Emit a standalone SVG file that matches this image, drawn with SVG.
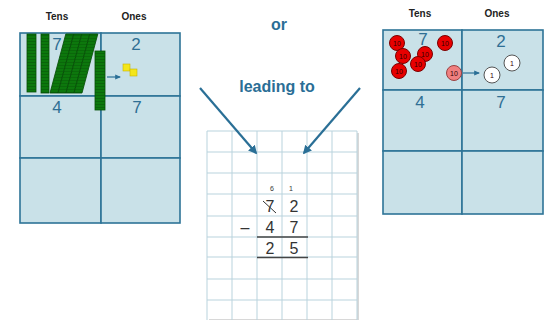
<svg xmlns="http://www.w3.org/2000/svg" width="546" height="320" viewBox="0 0 546 320">
  <defs>
    <style>
      .cell { fill: #c9e1e8; stroke: #2d7497; stroke-width: 1.6; }
      .head { font-family: "Liberation Sans", Arial, sans-serif; font-size: 10px; font-weight: bold; fill: #222; text-anchor: middle; }
      .num { font-family: "Liberation Sans", Arial, sans-serif; font-size: 17px; fill: #2f6f94; text-anchor: middle; }
      .word { font-family: "Liberation Sans", Arial, sans-serif; font-size: 16px; font-weight: bold; fill: #2a6e96; text-anchor: middle; }
      .grid { stroke: #b9d3dd; stroke-width: 1; fill: none; }
      .calc { font-family: "Liberation Sans", Arial, sans-serif; font-size: 16px; fill: #333; text-anchor: middle; }
      .small { font-family: "Liberation Sans", Arial, sans-serif; font-size: 7px; fill: #333; text-anchor: middle; }
      .rod { fill: url(#rodlines); stroke: #064f06; stroke-width: 0.8; }
      .red { fill: #e80000; stroke: #7a0000; stroke-width: 1; }
      .ctxt { font-family: "Liberation Sans", Arial, sans-serif; font-size: 7px; fill: #300; text-anchor: middle; }
      .one { fill: #fff; stroke: #555; stroke-width: 1; }
      .conn { stroke: #2a6f96; stroke-width: 2.2; fill: none; }
    </style>
    <marker id="head" viewBox="0 0 10 10" refX="8" refY="5" markerWidth="4" markerHeight="4" orient="auto">
      <path d="M0,0 L10,5 L0,10 z" fill="#2a6f96"/>
    </marker>
    <marker id="tip" viewBox="0 0 10 10" refX="8" refY="5" markerWidth="5" markerHeight="5" orient="auto">
      <path d="M0,1 L10,5 L0,9 z" fill="#2a6f96"/>
    </marker>
    <pattern id="rodlines" width="10" height="3" patternUnits="userSpaceOnUse">
      <rect width="10" height="3" fill="#0c780c"/>
      <line x1="0" y1="2.5" x2="10" y2="2.5" stroke="#085808" stroke-width="0.6"/>
    </pattern>
  </defs>

  <rect width="546" height="320" fill="#fff"/>

  <!-- left place-value table: base-ten rods -->
  <g id="rods-table">
    <text class="head" x="57" y="20">Tens</text>
    <text class="head" x="134" y="20">Ones</text>
    <rect class="cell" x="20" y="33" width="81" height="63"/>
    <rect class="cell" x="101" y="33" width="79" height="63"/>
    <rect class="cell" x="20" y="96" width="81" height="62"/>
    <rect class="cell" x="101" y="96" width="79" height="62"/>
    <rect class="cell" x="20" y="158" width="81" height="65"/>
    <rect class="cell" x="101" y="158" width="79" height="65"/>
    <text class="num" x="57" y="50">7</text>
    <text class="num" x="136" y="50">2</text>
    <text class="num" x="57" y="113">4</text>
    <text class="num" x="137" y="113">7</text>
    <!-- tens rods -->
    <rect class="rod" x="27" y="34" width="9" height="58"/>
    <rect class="rod" x="41" y="34" width="8" height="59"/>
    <g transform="translate(50,93) skewX(-15)">
      <rect class="rod" x="0" y="-59" width="8" height="59"/>
      <rect class="rod" x="8" y="-59" width="8" height="59"/>
      <rect class="rod" x="16" y="-59" width="8" height="59"/>
      <rect class="rod" x="24" y="-59" width="8" height="59"/>
    </g>
    <rect class="rod" x="95" y="51" width="10" height="59"/>
    <!-- rod traded into ones -->
    <line x1="107" y1="77" x2="120" y2="77" stroke="#2a6f96" stroke-width="1.2" marker-end="url(#tip)"/>
    <rect x="123" y="64" width="7" height="7" fill="#f4e61a" stroke="#c8b400" stroke-width="0.6"/>
    <rect x="130" y="69" width="7" height="7" fill="#f4e61a" stroke="#c8b400" stroke-width="0.6"/>
  </g>

  <!-- right place-value table: counters -->
  <g id="counters-table">
    <text class="head" x="420" y="17">Tens</text>
    <text class="head" x="497" y="17">Ones</text>
    <rect class="cell" x="383" y="30" width="79" height="60"/>
    <rect class="cell" x="462" y="30" width="81" height="60"/>
    <rect class="cell" x="383" y="90" width="79" height="61"/>
    <rect class="cell" x="462" y="90" width="81" height="61"/>
    <rect class="cell" x="383" y="151" width="79" height="63"/>
    <rect class="cell" x="462" y="151" width="81" height="63"/>
    <text class="num" x="423" y="45">7</text>
    <text class="num" x="501" y="47">2</text>
    <text class="num" x="420" y="108">4</text>
    <text class="num" x="501" y="108">7</text>
    <circle class="red" cx="397" cy="43" r="7.5"/><text class="ctxt" x="397" y="45.5">10</text>
    <circle class="red" cx="445" cy="43" r="7.5"/><text class="ctxt" x="445" y="45.5">10</text>
    <circle class="red" cx="403" cy="56" r="7.5"/><text class="ctxt" x="403" y="58.5">10</text>
    <circle class="red" cx="425" cy="54" r="7.5"/><text class="ctxt" x="425" y="56.5">10</text>
    <circle class="red" cx="418" cy="64" r="7.5"/><text class="ctxt" x="418" y="66.5">10</text>
    <circle class="red" cx="399" cy="71" r="7.5"/><text class="ctxt" x="399" y="73.5">10</text>
    <circle cx="454" cy="73" r="7.5" fill="#f08080" stroke="#9a4040" stroke-width="1"/><text class="ctxt" x="454" y="75.5">10</text>
    <line x1="463" y1="73" x2="479" y2="73" stroke="#2a6f96" stroke-width="1.2" marker-end="url(#tip)"/>
    <circle class="one" cx="492" cy="75" r="8"/><text class="ctxt" x="492" y="78" font-size="8">1</text>
    <circle class="one" cx="512" cy="63" r="8"/><text class="ctxt" x="512" y="66" font-size="8">1</text>
  </g>

  <!-- captions -->
  <g id="captions">
    <text class="word" x="279" y="30">or</text>
    <text class="word" x="277" y="92">leading to</text>
  </g>

  <!-- squared paper with written subtraction -->
  <g id="written-method">
    <rect x="209" y="133" width="150" height="188" fill="#d8d8d8"/>
    <rect x="207" y="131" width="150" height="188" fill="#fff"/>
    <path class="grid" d="M207,131V320 M232,131V320 M257,131V320 M282,131V320 M307,131V320 M332,131V320 M357,131V320
      M207,131H357 M207,152H357 M207,173H357 M207,194H357 M207,216H357 M207,237H357 M207,257H357 M207,279H357 M207,300H357"/>
    <text class="small" x="272" y="191">6</text>
    <text class="small" x="291" y="191">1</text>
    <text class="calc" x="270" y="212">7</text>
    <line x1="263" y1="201" x2="276" y2="213" stroke="#333" stroke-width="1"/>
    <text class="calc" x="294" y="212">2</text>
    <text class="calc" x="245" y="233">–</text>
    <text class="calc" x="270" y="233">4</text>
    <text class="calc" x="294" y="233">7</text>
    <line x1="257" y1="237" x2="308" y2="237" stroke="#444" stroke-width="1.5"/>
    <text class="calc" x="270" y="254">2</text>
    <text class="calc" x="294" y="254">5</text>
    <line x1="257" y1="257.5" x2="308" y2="257.5" stroke="#444" stroke-width="1.5"/>
  </g>

  <!-- connectors -->
  <g id="connectors">
    <line class="conn" x1="200" y1="88" x2="256" y2="153" marker-end="url(#head)"/>
    <line class="conn" x1="360" y1="88" x2="304" y2="153" marker-end="url(#head)"/>
  </g>
</svg>
